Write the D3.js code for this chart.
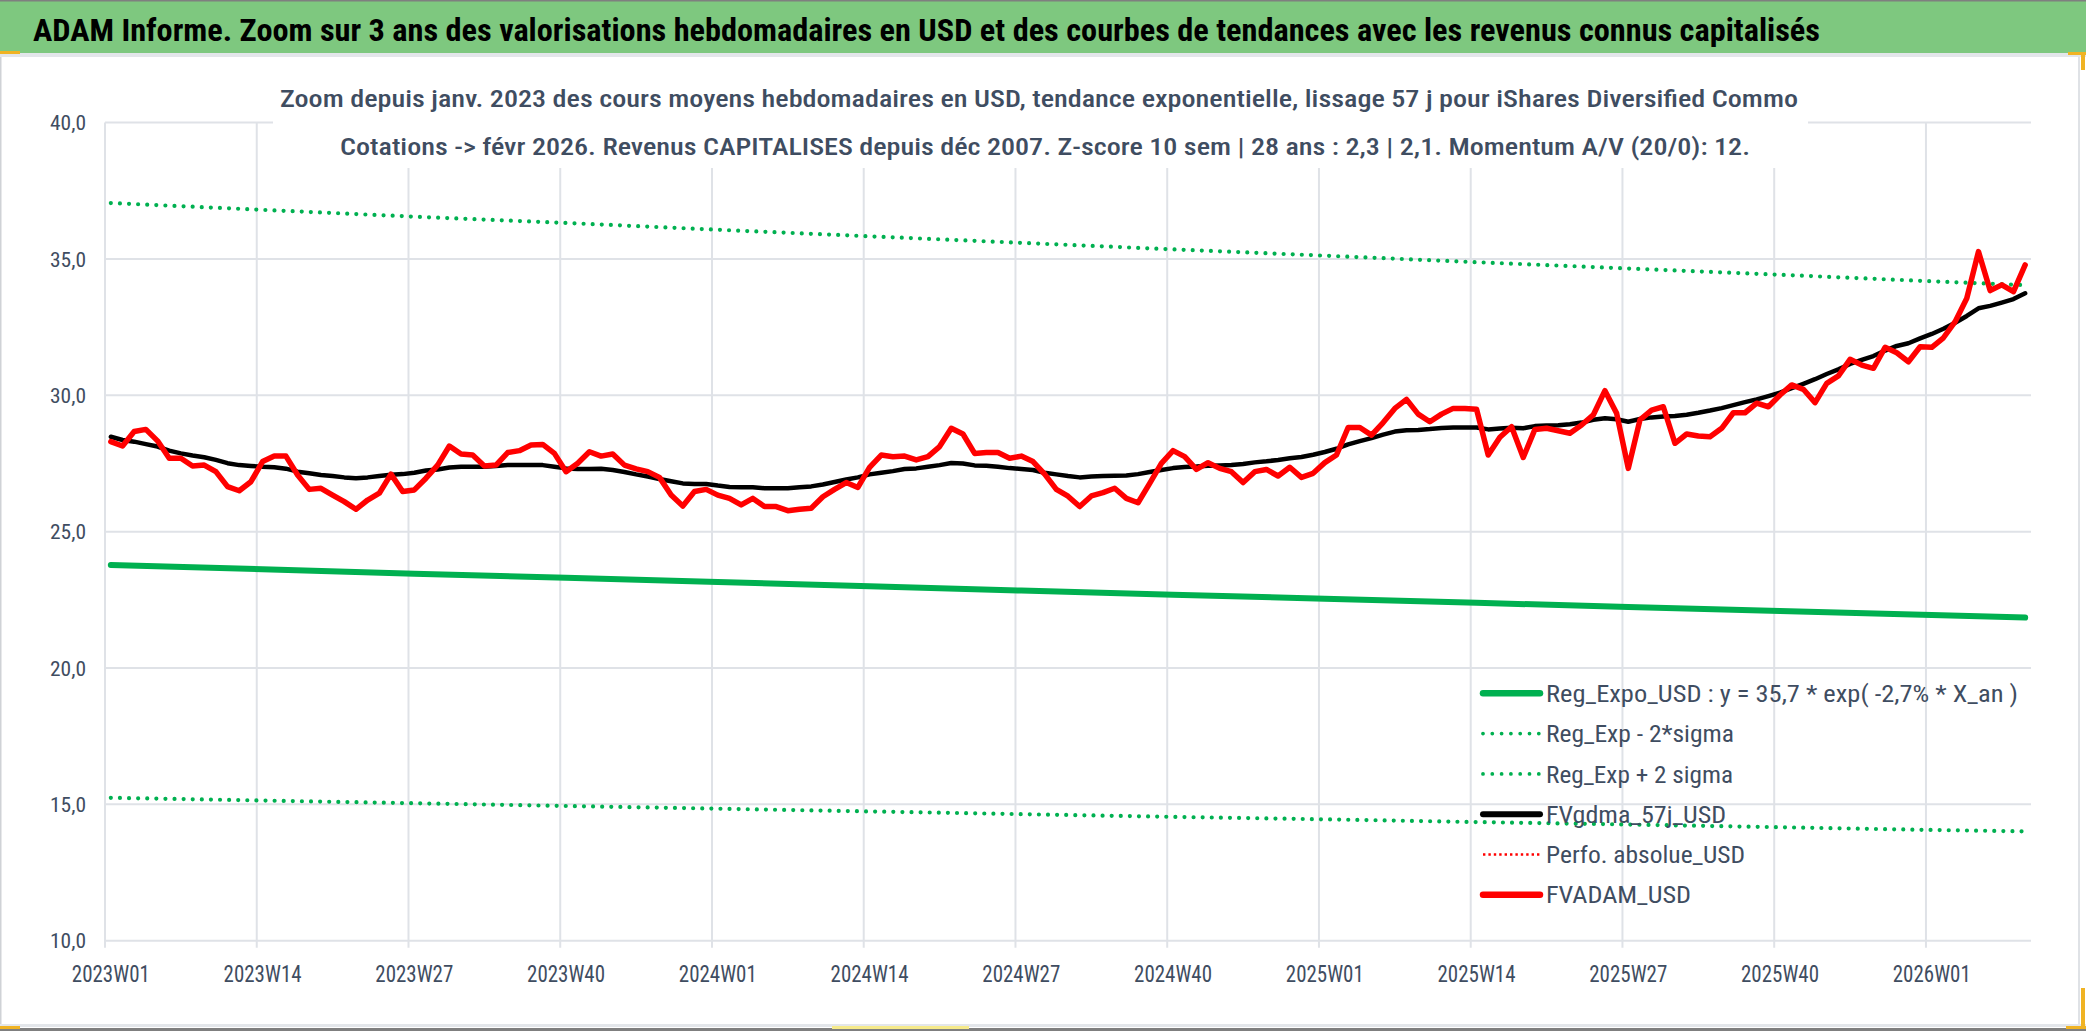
<!DOCTYPE html>
<html>
<head>
<meta charset="utf-8">
<script src="https://cdn.jsdelivr.net/npm/d3@7"></script>
<style>
  body { margin: 0; background: #fff; }
  svg { display: block; }
</style>
</head>
<body>
<div id="chart"></div>
<script>
// ---- data ----
const mainTitle = "ADAM Informe. Zoom sur 3 ans des valorisations hebdomadaires en USD et des courbes de tendances avec les revenus connus capitalisés";
const subTitle = [
  "Zoom depuis janv. 2023 des cours moyens hebdomadaires en USD, tendance exponentielle, lissage 57 j pour iShares Diversified Commo",
  "Cotations -> févr 2026. Revenus CAPITALISES depuis déc 2007. Z-score 10 sem | 28 ans : 2,3 | 2,1. Momentum A/V (20/0): 12."
];

const weeksPerYear = [["2023", 52], ["2024", 52], ["2025", 52], ["2026", 9]];
const weeks = weeksPerYear.flatMap(([y, n]) =>
  d3.range(1, n + 1).map(w => `${y}W${String(w).padStart(2, "0")}`));

const tickWeeks = ["2023W01", "2023W14", "2023W27", "2023W40", "2024W01", "2024W14", "2024W27",
  "2024W40", "2025W01", "2025W14", "2025W27", "2025W40", "2026W01"];
const yTicks = [10, 15, 20, 25, 30, 35, 40];

const fvadam = [
  28.30, 28.14, 28.67, 28.75, 28.33, 27.69, 27.69, 27.41, 27.44, 27.20, 26.65, 26.50, 26.83, 27.57,
  27.77, 27.77, 27.08, 26.55, 26.59, 26.34, 26.10, 25.82, 26.16, 26.41, 27.11, 26.47, 26.53, 26.96,
  27.44, 28.14, 27.85, 27.81, 27.41, 27.44, 27.90, 27.97, 28.18, 28.20, 27.87, 27.20, 27.51, 27.93,
  27.77, 27.85, 27.44, 27.30, 27.20, 26.99, 26.34, 25.94, 26.47, 26.55, 26.34, 26.22, 25.98, 26.22,
  25.92, 25.92, 25.77, 25.82, 25.86, 26.28, 26.55, 26.80, 26.62, 27.36, 27.81, 27.75, 27.77, 27.63,
  27.75, 28.12, 28.79, 28.58, 27.87, 27.90, 27.90, 27.69, 27.77, 27.57, 27.11, 26.55, 26.30,
  25.92, 26.31, 26.43, 26.59, 26.22, 26.06, 26.77, 27.50, 27.97, 27.75, 27.28, 27.53, 27.32, 27.20,
  26.80, 27.20, 27.28, 27.04, 27.36, 26.99, 27.14, 27.53, 27.81, 28.82, 28.82, 28.54, 29.00, 29.52,
  29.85, 29.31, 29.03, 29.31, 29.52, 29.52, 29.49, 27.81, 28.46, 28.85, 27.72, 28.75, 28.79,
  28.70, 28.61, 28.91, 29.28, 30.17, 29.34, 27.32, 29.10, 29.46, 29.58, 28.24, 28.58, 28.51, 28.48,
  28.79, 29.36, 29.36, 29.71, 29.58, 30.01, 30.38, 30.22, 29.73, 30.44, 30.71, 31.32, 31.11, 30.99,
  31.76, 31.56, 31.23, 31.78, 31.76, 32.11, 32.70, 33.56, 35.27, 33.84, 34.05, 33.80, 34.78
];

const fvgdma = [
  28.48, 28.36, 28.30, 28.21, 28.12, 27.97, 27.87, 27.79, 27.73, 27.63, 27.51, 27.44, 27.41, 27.38,
  27.36, 27.31, 27.20, 27.14, 27.08, 27.04, 26.99, 26.96, 26.99, 27.04, 27.09, 27.11, 27.16, 27.24,
  27.28, 27.35, 27.38, 27.38, 27.38, 27.41, 27.44, 27.44, 27.44, 27.44, 27.38, 27.32, 27.30, 27.30,
  27.31, 27.26, 27.19, 27.10, 27.02, 26.93, 26.85, 26.77, 26.75, 26.75, 26.69, 26.64, 26.63, 26.63,
  26.59, 26.59, 26.59, 26.63, 26.66, 26.73, 26.82, 26.91, 26.99, 27.10, 27.16, 27.22, 27.30, 27.32,
  27.38, 27.44, 27.52, 27.50, 27.43, 27.42, 27.38, 27.33, 27.30, 27.26, 27.16, 27.10, 27.04,
  26.99, 27.02, 27.04, 27.05, 27.06, 27.11, 27.19, 27.26, 27.33, 27.37, 27.39, 27.42, 27.43, 27.44,
  27.48, 27.54, 27.58, 27.63, 27.69, 27.74, 27.82, 27.92, 28.04, 28.20, 28.32, 28.43, 28.56, 28.67,
  28.72, 28.73, 28.76, 28.80, 28.82, 28.82, 28.82, 28.75, 28.78, 28.81, 28.79, 28.87, 28.89,
  28.90, 28.94, 29.00, 29.10, 29.16, 29.12, 29.03, 29.13, 29.19, 29.22, 29.24, 29.29, 29.36, 29.44,
  29.53, 29.64, 29.75, 29.85, 29.97, 30.10, 30.26, 30.42, 30.59, 30.78, 30.95, 31.15, 31.30, 31.44,
  31.64, 31.81, 31.91, 32.09, 32.25, 32.44, 32.66, 32.91, 33.19, 33.28, 33.40, 33.53, 33.74
];

// trend curves, read at each labelled week and at the last week
const trendWeeks = [...tickWeeks, "2026W09"];
const regExpo  = [23.78, 23.62, 23.46, 23.31, 23.15, 23.00, 22.84, 22.69, 22.54, 22.39, 22.24, 22.09, 21.94, 21.85];
const regMinus = [15.24, 15.14, 15.04, 14.94, 14.84, 14.74, 14.64, 14.54, 14.45, 14.35, 14.26, 14.16, 14.06, 14.01];
const regPlus  = [37.05, 36.80, 36.55, 36.32, 36.07, 35.83, 35.59, 35.35, 35.12, 34.88, 34.65, 34.42, 34.18, 34.04];
const perfoAbs = [];  // present in the legend, no visible values

const legendNames = [
  "Reg_Expo_USD : y = 35,7 * exp( -2,7% *  X_an )",
  "Reg_Exp - 2*sigma",
  "Reg_Exp + 2 sigma",
  "FVgdma_57j_USD",
  "Perfo. absolue_USD",
  "FVADAM_USD"
];

// ---- drawing ----
const W = 2086, H = 1031;
const font = "'Liberation Sans Narrow', 'Roboto Condensed', 'Liberation Sans', Roboto, sans-serif";
const textCol = "#3f4d61";
const gridCol = "#dfe2e7";
const green = "#00b050";

const svg = d3.select("#chart").append("svg").attr("width", W).attr("height", H);

// frame and banner
svg.append("rect").attr("width", W).attr("height", H).attr("fill", "#fff");
svg.append("rect").attr("x", 0).attr("y", 0).attr("width", W).attr("height", 53).attr("fill", "#7ec87f");
svg.append("rect").attr("x", 0).attr("y", 0).attr("width", W).attr("height", 1.5).attr("fill", "#7f7f7f");
svg.append("rect").attr("x", 0).attr("y", 53).attr("width", W).attr("height", 4).attr("fill", "#e3e6ea");
svg.append("rect").attr("x", 0).attr("y", 57).attr("width", 1.5).attr("height", 968).attr("fill", "#cfd2d6");
svg.append("rect").attr("x", 2078).attr("y", 57).attr("width", 2).attr("height", 968).attr("fill", "#dfe2e6");
svg.append("rect").attr("x", 0).attr("y", 1024).attr("width", W).attr("height", 3).attr("fill", "#e3e6ea");
svg.append("rect").attr("x", 0).attr("y", 1028).attr("width", W).attr("height", 3).attr("fill", "#7f7f7f");
// selection handles of the sheet
[[0, 51, 20, 3, "#f0b323"], [2068, 52, 18, 3, "#f0b323"], [2081, 52, 4, 18, "#f0b323"],
 [2081, 988, 4, 40, "#f0b323"], [2066, 1026, 20, 3, "#f0b323"], [0, 1026, 20, 3, "#f0b323"],
 [832, 1026, 137, 3, "#f6ea8a"]].forEach(([x, y, w, h, c]) =>
  svg.append("rect").attr("x", x).attr("y", y).attr("width", w).attr("height", h).attr("fill", c));

svg.append("text")
  .attr("x", 33).attr("y", 41)
  .attr("font-family", font).attr("font-size", 31).attr("font-weight", "bold").attr("fill", "#000")
  .attr("textLength", 1787).attr("lengthAdjust", "spacingAndGlyphs")
  .text(mainTitle);

// scales
const x = d3.scaleBand().domain(weeks).range([105, 2031]).padding(0);
const y = d3.scaleLinear().domain([10, 40]).range([940.7, 122.6]);
const cx = w => x(w) + x.bandwidth() / 2;

// grid
const grid = svg.append("g");
grid.selectAll("line.h").data(yTicks).enter().append("line")
  .attr("x1", 105).attr("x2", 2031)
  .attr("y1", d => y(d)).attr("y2", d => y(d))
  .attr("stroke", gridCol).attr("stroke-width", 2);
grid.selectAll("line.v").data(tickWeeks).enter().append("line")
  .attr("x1", d => x(d)).attr("x2", d => x(d))
  .attr("y1", y(40)).attr("y2", y(10) + 7)
  .attr("stroke", gridCol).attr("stroke-width", 2);

// chart title box (covers the grid)
svg.append("rect").attr("x", 273).attr("y", 60).attr("width", 1535).attr("height", 108).attr("fill", "#fff");
svg.selectAll("text.sub").data(subTitle).enter().append("text")
  .attr("x", (d, i) => i === 0 ? 280 : 340)
  .attr("y", (d, i) => 107 + i * 48)
  .attr("font-family", font).attr("font-size", 24).attr("font-weight", 500).attr("fill", textCol)
  .attr("textLength", (d, i) => i === 0 ? 1518 : 1410).attr("lengthAdjust", "spacingAndGlyphs")
  .text(d => d);

// axes labels
svg.selectAll("text.yl").data(yTicks).enter().append("text")
  .attr("x", 86).attr("y", d => y(d) + 7.6)
  .attr("text-anchor", "end")
  .attr("font-family", font).attr("font-size", 21).attr("fill", textCol)
  .attr("textLength", 36).attr("lengthAdjust", "spacingAndGlyphs")
  .text(d => d3.format(".1f")(d).replace(".", ","));
svg.selectAll("text.xl").data(tickWeeks).enter().append("text")
  .attr("x", d => cx(d)).attr("y", 982)
  .attr("text-anchor", "middle")
  .attr("font-family", font).attr("font-size", 23).attr("fill", textCol)
  .attr("textLength", 78).attr("lengthAdjust", "spacingAndGlyphs")
  .text(d => d);

// series
const dotted = { width: 4.2, dash: "0 9.1", cap: "round" };
const trendLine = d3.line().x((d, i) => cx(trendWeeks[i])).y(d => y(d));
const weekLine = d3.line().x((d, i) => cx(weeks[i])).y(d => y(d));

function path(gen, data, stroke, width, dash, cap) {
  svg.append("path").datum(data)
    .attr("d", gen)
    .attr("fill", "none")
    .attr("stroke", stroke).attr("stroke-width", width)
    .attr("stroke-dasharray", dash || null)
    .attr("stroke-linecap", cap || "round").attr("stroke-linejoin", "round");
}

path(trendLine, regMinus, green, dotted.width, dotted.dash, dotted.cap);
path(trendLine, regPlus, green, dotted.width, dotted.dash, dotted.cap);
path(trendLine, regExpo, green, 6);
path(weekLine, fvgdma, "#000", 4.5);
path(weekLine, fvadam, "#ff0000", 5.5);

// legend
const legendStyles = [
  { stroke: green, width: 6.5, dash: null, cap: "round" },
  { stroke: green, width: 3.8, dash: "0 9.3", cap: "round" },
  { stroke: green, width: 3.8, dash: "0 9.3", cap: "round" },
  { stroke: "#000", width: 6, dash: null, cap: "round" },
  { stroke: "#ff0000", width: 2.4, dash: "2.4 3", cap: "butt" },
  { stroke: "#ff0000", width: 6.5, dash: null, cap: "round" }
];
const legendWidths = [472, 188, 187, 180, 199, 145];
const legend = svg.append("g");
legendNames.forEach((name, k) => {
  const ly = 693.3 + k * 40.3;
  const s = legendStyles[k];
  legend.append("line")
    .attr("x1", 1483).attr("x2", 1540).attr("y1", ly).attr("y2", ly)
    .attr("stroke", s.stroke).attr("stroke-width", s.width)
    .attr("stroke-dasharray", s.dash).attr("stroke-linecap", s.cap);
  legend.append("text")
    .attr("x", 1546).attr("y", ly + 8.6)
    .attr("font-family", font).attr("font-size", 24).attr("fill", textCol)
    .attr("textLength", legendWidths[k]).attr("lengthAdjust", "spacingAndGlyphs")
    .text(name);
});
</script>
</body>
</html>
